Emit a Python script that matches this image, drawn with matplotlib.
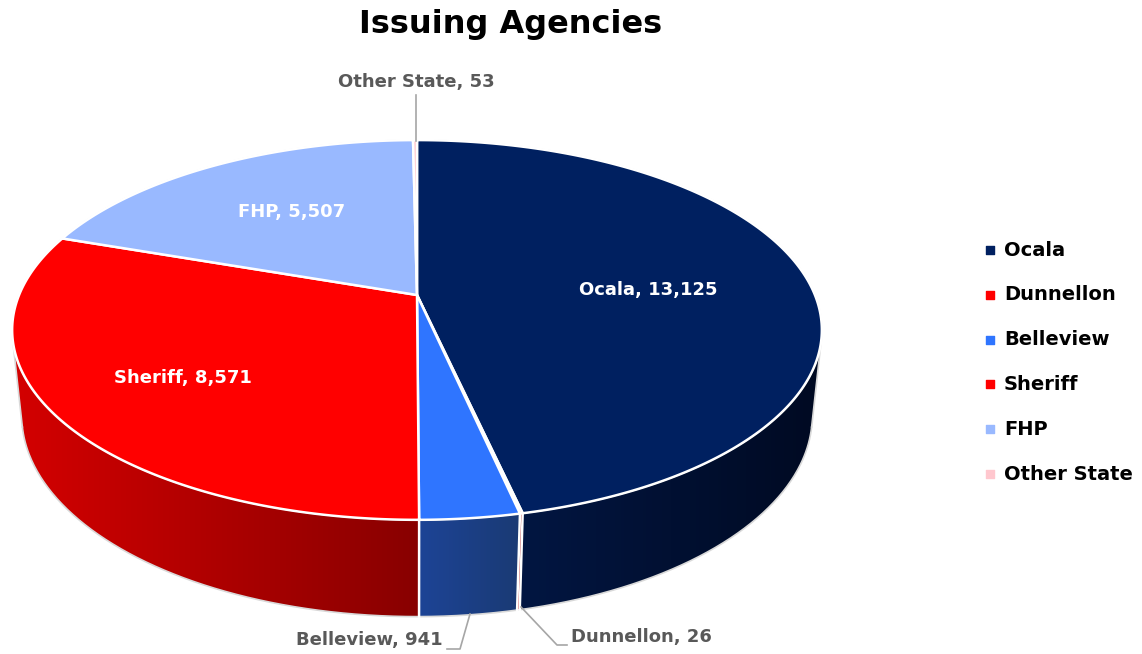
import numpy as np
import matplotlib
matplotlib.use('Agg')
import matplotlib.pyplot as plt
from matplotlib.patches import Polygon
from matplotlib.colors import LinearSegmentedColormap

# ---- data ----
labels = ['Ocala', 'Dunnellon', 'Belleview', 'Sheriff', 'FHP', 'Other State']
values = [13125, 26, 941, 8571, 5507, 53]
top_colors = ['#002060', '#FF0000', '#2F75FF', '#FF0000', '#99B9FF', '#FFC7CE']
side_left = ['#021642', '#C00000', '#1D4496', '#D40000', '#7F9AD6', '#E0A8AF']
side_right = ['#000A22', '#900000', '#1A3A74', '#880000', '#6F88C0', '#D09AA0']

W, H = 1142, 654
fig = plt.figure(figsize=(W / 100, H / 100), dpi=100)
ax = fig.add_axes([0, 0, 1, 1])
ax.set_xlim(0, W)
ax.set_ylim(H, 0)
ax.axis('off')

# ---- 3D camera ----
phi = np.radians(27.45)
D, F, T = 4.82, 1918.0, 0.245
cx, cy = 417.0, 295.0
s_, c_ = np.sin(phi), np.cos(phi)


def proj(x, y, z):
    up = y * s_ + z * c_
    fw = D + y * c_ - z * s_
    return cx + F * x / fw, cy - F * up / fw


def rim(theta, z):
    return proj(np.sin(theta), np.cos(theta), np.full_like(theta, z))


vals = np.array(values, dtype=float)
bounds = np.concatenate([[0], np.cumsum(vals) / vals.sum() * 2 * np.pi])
vis0 = np.arccos(-1.0 / (D * c_))
vis1 = 2 * np.pi - vis0

# ---- sides ----
for i in range(len(values)):
    a0, a1 = max(bounds[i], vis0), min(bounds[i + 1], vis1)
    if a1 <= a0:
        continue
    th = np.linspace(a0, a1, 200)
    xt, yt = rim(th, 0.0)
    xb, yb = rim(th, -T)
    px = np.concatenate([xt, xb[::-1]])
    py = np.concatenate([yt, yb[::-1]])
    poly = Polygon(np.column_stack([px, py]), closed=True, facecolor='none', edgecolor='none')
    ax.add_patch(poly)
    cmap = LinearSegmentedColormap.from_list('g%d' % i, [side_left[i], side_right[i]])
    grad = np.linspace(0, 1, 256).reshape(1, -1)
    im = ax.imshow(grad, cmap=cmap, aspect='auto',
                   extent=[px.min(), px.max(), py.max(), py.min()], zorder=1)
    im.set_clip_path(poly)

# bottom outline of side
thv = np.linspace(vis0, vis1, 400)
xb, yb = rim(thv, -T)
ax.plot(xb, yb, color='#D9D9D9', lw=1.2, zorder=2)
for a in (vis0, vis1):
    xt, yt = rim(np.array([a]), 0.0)
    xb2, yb2 = rim(np.array([a]), -T)
    ax.plot([xt[0], xb2[0]], [yt[0], yb2[0]], color='#D9D9D9', lw=1.2, zorder=2)
# vertical edges at slice boundaries on visible side
for b in bounds:
    if vis0 < b < vis1:
        xt, yt = rim(np.array([b]), 0.0)
        xb2, yb2 = rim(np.array([b]), -T)
        ax.plot([xt[0], xb2[0]], [yt[0], yb2[0]], color='white', lw=1.8, zorder=3)

# ---- top faces ----
for i in range(len(values)):
    th = np.linspace(bounds[i], bounds[i + 1], max(3, int(400 * (bounds[i + 1] - bounds[i]))))
    xt, yt = rim(th, 0.0)
    px = np.concatenate([[cx], xt])
    py = np.concatenate([[cy], yt])
    ax.add_patch(Polygon(np.column_stack([px, py]), closed=True, facecolor=top_colors[i],
                         edgecolor='white', lw=1.8, joinstyle='round', zorder=4))
# outer top outline
tha = np.linspace(0, 2 * np.pi, 800)
xt, yt = rim(tha, 0.0)
ax.plot(xt, yt, color='#E0E0E0', lw=1.0, zorder=3.5)

# ---- labels ----
fam = 'DejaVu Sans'
fs = 13
ax.text(648, 290, 'Ocala, 13,125', color='white', fontsize=fs, fontweight='bold',
        ha='center', va='center', family=fam, zorder=6)
ax.text(183, 378, 'Sheriff, 8,571', color='white', fontsize=fs, fontweight='bold',
        ha='center', va='center', family=fam, zorder=6)
ax.text(292, 212, 'FHP, 5,507', color='white', fontsize=fs, fontweight='bold',
        ha='center', va='center', family=fam, zorder=6)
gray = '#595959'
lead = '#A6A6A6'
ax.text(416, 82, 'Other State, 53', color=gray, fontsize=fs, fontweight='bold',
        ha='center', va='center', family=fam, zorder=6)
ax.plot([416, 416], [95, 141], color=lead, lw=1.2, zorder=5)
ax.text(443, 640, 'Belleview, 941', color=gray, fontsize=fs, fontweight='bold',
        ha='right', va='center', family=fam, zorder=6)
ax.plot([470, 460, 447], [614, 649, 649], color=lead, lw=1.2, zorder=5)
ax.text(571, 637, 'Dunnellon, 26', color=gray, fontsize=fs, fontweight='bold',
        ha='left', va='center', family=fam, zorder=6)
ax.plot([521, 557, 567], [607, 645, 645], color=lead, lw=1.2, zorder=5)

# ---- title ----
ax.text(511, 25, 'Issuing Agencies', color='black', fontsize=23, fontweight='bold',
        ha='center', va='center', family=fam)

# ---- legend ----
leg_y = np.linspace(250, 474, len(labels))
for lab, col, yy in zip(labels, top_colors, leg_y):
    ax.scatter([990], [yy], marker='s', s=32, color=col, zorder=6)
    ax.text(1004, yy, lab, color='black', fontsize=14, fontweight='bold',
            ha='left', va='center', family=fam)

fig.savefig('out.png', dpi=100)
